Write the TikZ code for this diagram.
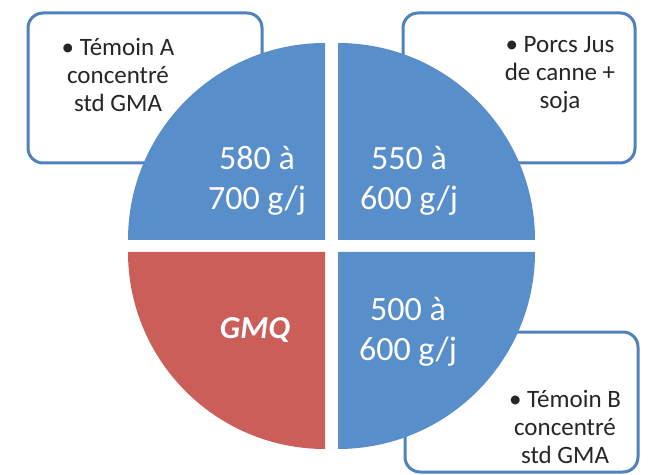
\documentclass[tikz,border=0pt]{standalone}
\usepackage{fontspec}
\setmainfont{Carlito}
\usepackage{xcolor}
\usepackage{tikz}
\usetikzlibrary{positioning}
\definecolor{quadBlue}{RGB}{88,142,202}
\definecolor{quadRed}{RGB}{203,94,89}
\definecolor{boxLine}{RGB}{79,129,189}
\tikzset{
    infobox/.style={rectangle, draw=boxLine, line width=3pt, fill=white, rounded corners=15pt, inner sep=0pt},
    infotext/.style={align=center, text=black!85, inner sep=0pt, font=\fontsize{25}{28}\selectfont},
    quadblue/.style={fill=quadBlue},
    quadred/.style={fill=quadRed},
    valtext/.style={align=center, text=white, inner sep=0pt, font=\fontsize{34}{40}\selectfont}
}
\begin{document}
\begin{tikzpicture}[x=1pt, y=1pt]
        \useasboundingbox (0,0) rectangle (652,474);

        % Boxes
        \node[infobox, minimum width=234pt, minimum height=150pt] (BoxA) at (145,386) {};
        \node[infobox, minimum width=232pt, minimum height=150pt] (BoxJus) at (519,386) {};
        \node[infobox, minimum width=233pt, minimum height=140pt] (BoxB) at (521.5,72) {};

        % Quadrants
        \coordinate (TL) at (325,234);
        \coordinate (TR) at (338,234);
        \coordinate (BL) at (325,222);
        \coordinate (BR) at (338,222);
        \fill[quadblue] (TL) -- ++(-197,0) arc[start angle=180, end angle=90, radius=197] -- cycle;
        \fill[quadblue] (TR) -- ++(0,197) arc[start angle=90, end angle=0, radius=197] -- cycle;
        \fill[quadred] (BL) -- ++(0,-197) arc[start angle=270, end angle=180, radius=197] -- cycle;
        \fill[quadblue] (BR) -- ++(197,0) arc[start angle=0, end angle=-90, radius=197] -- cycle;

        % Texts
        \node[infotext] (TxtA) at (118,399) {• Témoin A\\concentré\\std GMA};
        \node[infotext] (TxtJus) at (560,399) {• Porcs Jus\\de canne +\\soja};
        \node[infotext] (TxtB) at (565,47) {• Témoin B\\concentré\\std GMA};

        \node[valtext] (ValA) at (257,293) {580 à\\700 g/j};
        \node[valtext] (ValJus) at (409,293) {550 à\\600 g/j};
        \node[valtext] (ValB) at (408,142) {500 à\\600 g/j};
        \node[valtext, font=\fontsize{32}{38}\selectfont\bfseries\itshape] (Gmq) at (255,144) {GMQ};

    \end{tikzpicture}
\end{document}
